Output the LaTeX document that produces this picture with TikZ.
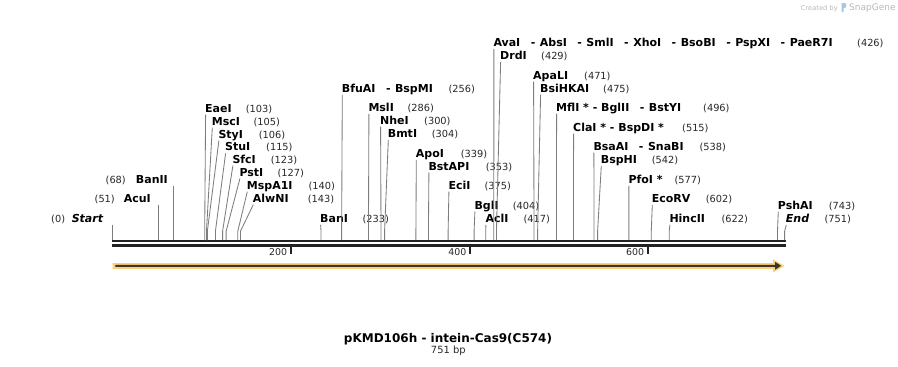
\documentclass[tikz,border=0pt]{standalone}
\usepackage{fontspec}
\setmainfont{DejaVu Sans}
\usetikzlibrary{calc}
\definecolor{leadc}{RGB}{125,125,125}
\definecolor{bbk}{RGB}{34,34,34}
\definecolor{orL}{RGB}{251,208,122}
\definecolor{orD}{RGB}{62,54,38}
\definecolor{numc}{RGB}{40,40,40}
\definecolor{sgray}{RGB}{185,185,185}
\definecolor{sblue}{RGB}{160,200,232}
\newcommand\enzsep{\hspace{10.5pt}-\hspace{4.5pt}}
\tikzset{
  enzname/.style={anchor=base west, inner sep=0pt, text=black, font=\fontsize{11}{13}\selectfont\bfseries},
  enznum/.style={anchor=base west, inner sep=0pt, text=numc, font=\fontsize{9.8}{12}\selectfont},
  leader/.style={draw=leadc, line width=0.85pt},
  bbline/.style={draw=bbk, line width=2.3pt},
  tickmark/.style={draw=bbk, line width=1.8pt},
  ticklbl/.style={anchor=base east, inner sep=0pt, text=numc, font=\fontsize{9.4}{11}\selectfont},
}
% right-side label: id, name x, centre y, number x, bp, name
\newcommand\rsite[6]{%
  \node[enzname] (n#1) at (#2,#3+4) {#6};
  \node[enznum] (m#1) at (#4,#3+4) {(#5)};
  \coordinate (p#1) at ({112.5+0.895*#5},240.2);
  \draw[leader] ([shift={(0.6,2.6)}]n#1.base west) -- ([yshift=9pt]p#1) -- (p#1);
}
% left-side label: id, name end x, centre y, number end x, bp, name
\newcommand\lsite[6]{%
  \node[enzname, anchor=base east] (n#1) at (#2,#3+4) {#6};
  \node[enznum, anchor=base east] (m#1) at (#4,#3+4) {(#5)};
  \coordinate (p#1) at ({112.5+0.895*#5},240.2);
  \coordinate (t#1) at ({112.5+0.895*#5},#3+6.6);
  \draw[leader] (t#1) -- (p#1);
}
\begin{document}
\begin{tikzpicture}[x=1pt,y=-1pt]
\useasboundingbox (0,0) rectangle (898,367);
\fill[white] (0,0) rectangle (898,367);

% backbone
\coordinate (bbL1) at (112,241.3);
\coordinate (bbR1) at (786,241.3);
\coordinate (bbL2) at (112,245.5);
\coordinate (bbR2) at (786,245.5);
\draw[bbline] (bbL1) -- (bbR1);
\draw[bbline] (bbL2) -- (bbR2);

% ticks
\foreach \tx/\tl in {290.7/200, 470/400, 647.7/600}{
  \draw[tickmark] (\tx,246.5) -- (\tx,253.5);
  \node[ticklbl] at (\tx-3.4,255.7) {\tl};
}

% feature arrow
\fill[orL] (112.7,263) -- (773,263) -- (773,259.3) -- (784.5,265.9) -- (773,272.5) -- (773,268.8) -- (112.7,268.8) -- cycle;
\fill[orD] (115.3,264.8) -- (775,264.8) -- (775,261.8) -- (781.2,265.8) -- (775,269.8) -- (775,266.8) -- (115.3,266.8) -- cycle;

% left labels
\lsite{st}{103.3}{218.3}{65.3}{0}{\itshape Start}
\lsite{acu}{151}{198.3}{115}{51}{AcuI}
\lsite{ban2}{168}{179.3}{126}{68}{BanII}

% right labels
\rsite{eae}{205}{108}{245.7}{103}{EaeI}
\rsite{msc}{211.7}{121}{253.3}{105}{MscI}
\rsite{sty}{218.3}{134}{258.7}{106}{StyI}
\rsite{stu}{225}{146.7}{266}{115}{StuI}
\rsite{sfc}{232.3}{159}{270.7}{123}{SfcI}
\rsite{pst}{239.3}{172}{277.3}{127}{PstI}
\rsite{msp}{246.7}{185}{308.3}{140}{MspA1I}
\rsite{alw}{252.7}{198}{307.7}{143}{AlwNI}
\rsite{ban1}{320}{218.3}{362.3}{233}{BanI}
\rsite{bfu}{341.7}{88.3}{448.3}{256}{BfuAI\enzsep BspMI}
\rsite{msl}{368.3}{107.3}{407.3}{286}{MslI}
\rsite{nhe}{380}{120}{424}{300}{NheI}
\rsite{bmt}{387.7}{133.3}{431.7}{304}{BmtI}
\rsite{apo}{415.7}{153.3}{460.7}{339}{ApoI}
\rsite{bst}{428.3}{166}{485.7}{353}{BstAPI}
\rsite{eci}{448.3}{185}{484.3}{375}{EciI}
\rsite{bgl}{474.3}{205}{512.7}{404}{BglI}
\rsite{acl}{485.3}{218.3}{523.3}{417}{AclI}
\rsite{ava}{493.3}{42.5}{857}{426}{AvaI\enzsep AbsI\enzsep SmlI\enzsep XhoI\enzsep BsoBI\enzsep PspXI\enzsep PaeR7I}
\rsite{drd}{500}{55.5}{541}{429}{DrdI}
\rsite{apa}{533}{75}{584}{471}{ApaLI}
\rsite{bsi}{540}{88}{603}{475}{BsiHKAI}
\rsite{mfl}{556}{107}{703}{496}{MflI *\ -\ BglII\enzsep BstYI}
\rsite{cla}{573}{127}{682}{515}{ClaI *\ -\ BspDI *}
\rsite{bsa}{593.3}{146}{699.3}{538}{BsaAI\enzsep SnaBI}
\rsite{bsp}{600.7}{159.3}{651.7}{542}{BspHI}
\rsite{pfo}{628.3}{179.3}{674.3}{577}{PfoI *}
\rsite{eco}{651.7}{198.3}{705.7}{602}{EcoRV}
\rsite{hinc}{669.3}{218.3}{721.3}{622}{HincII}
\rsite{psh}{777.7}{205}{828.7}{743}{PshAI}
\rsite{end}{785.7}{218.3}{824.3}{751}{\itshape End}

% title
\node[anchor=base, inner sep=0pt, text=black, font=\fontsize{12}{14}\selectfont\bfseries] (title) at (448,342) {pKMD106h - intein-Cas9(C574)};
\node[anchor=base, inner sep=0pt, text=numc, font=\fontsize{9.9}{12}\selectfont] (len) at (448.3,353.5) {751 bp};

% credit
\node[anchor=base east, inner sep=0pt, text=sgray, font=\fontsize{6.7}{8}\selectfont] (cby) at (838,10) {Created by};
\fill[sblue] (841.5,3) -- (844.5,3) .. controls (847,3) and (847,8) .. (844.5,8) -- (843.5,8) -- (843.5,12) -- (841.5,12) -- cycle;
\node[anchor=base west, inner sep=0pt, text=sgray, font=\fontsize{9}{10}\selectfont] (sg) at (849,10.5) {SnapGene};
\end{tikzpicture}
\end{document}
